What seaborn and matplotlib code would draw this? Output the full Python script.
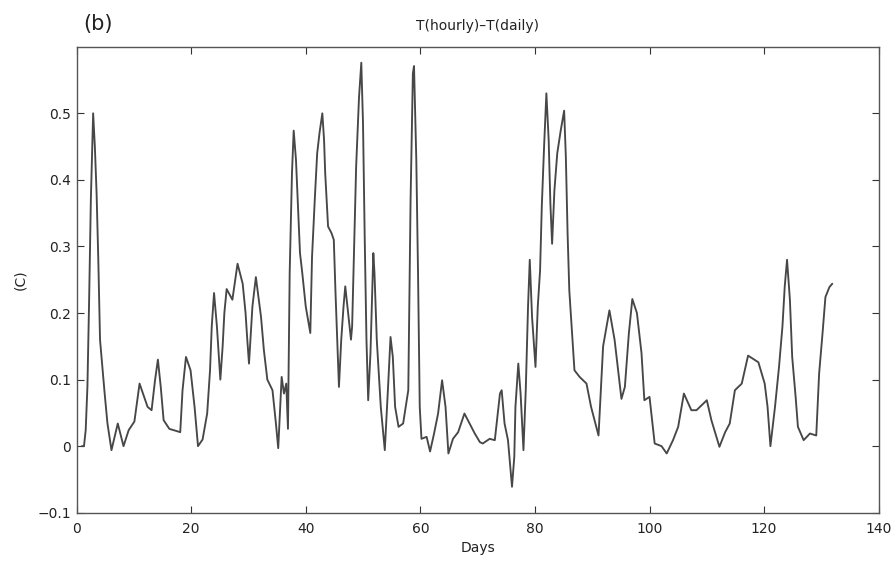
import matplotlib
matplotlib.use("Agg")
import matplotlib.pyplot as plt
import numpy as np
import pandas as pd
import seaborn as sns

# ---- data ----
days = [0.9, 1.3, 1.6, 1.9, 2.2, 2.5, 2.9, 3.2, 3.5, 3.8,
        4.1, 4.5, 4.9, 5.4, 6.1, 7.2, 8.2, 9.1, 10.1, 11.0,
        12.4, 13.1, 13.7, 14.2, 14.7, 15.2, 16.2, 18.1, 18.5, 19.1,
        19.9, 20.6, 21.2, 22.0, 22.8, 23.3, 23.6, 24.0, 24.5, 24.8,
        25.1, 25.5, 25.8, 26.2, 27.2, 28.1, 29.0, 29.5, 29.8, 30.1,
        30.7, 31.3, 32.2, 32.7, 33.3, 34.2, 34.8, 35.2,
        35.8, 36.2, 36.6, 36.9, 37.2, 37.6, 37.9, 38.3, 38.6, 39.0,
        39.4, 40.0, 40.4, 40.8, 41.1, 41.6, 42.0, 42.4, 42.9, 43.2,
        43.4, 43.9, 44.5, 44.9, 45.2, 45.5, 45.8, 46.2, 46.6, 46.9,
        47.4, 47.9, 48.1, 48.4, 48.8, 49.3, 49.7, 50.0, 50.3, 50.6,
        50.9, 51.3, 51.8, 52.0, 52.4, 53.1, 53.8, 54.4, 54.8, 55.2,
        55.6, 56.2, 57.0, 57.9, 58.3, 58.7, 58.9, 59.3, 59.6, 59.9,
        60.2, 61.1, 61.7, 62.4, 63.1, 63.8, 64.4, 64.9, 65.7, 66.6,
        67.7, 69.5, 70.4,
        70.9, 72.1, 73.0, 73.9, 74.2, 74.7, 75.3, 76.0, 76.4, 76.6,
        77.1, 77.5, 78.0, 78.4, 78.8, 79.1, 79.5, 80.1, 80.5, 80.9,
        81.2, 81.6, 82.0, 82.4, 82.7, 83.0, 83.4, 83.9, 84.5, 85.1,
        85.4, 85.7, 86.0, 86.4, 86.9, 87.8, 89.0, 89.8, 91.1, 91.9,
        93.0, 93.9, 95.1, 95.7, 96.4, 97.0, 97.8, 98.6, 99.1, 100.0,
        100.9, 102.1, 103.0, 104.1, 105.0, 106.0, 107.3, 108.2, 110.0, 110.8,
        112.2, 113.2, 114.0, 114.9, 116.1, 117.2, 119.0, 120.1, 120.6, 121.1,
        121.9, 122.6, 123.2, 123.6, 124.0, 124.5, 124.9, 125.5, 125.9, 126.9,
        128.0, 129.1, 129.6, 130.2, 130.7, 131.4, 131.9]

dT = [0.0, 0.0, 0.024, 0.089, 0.22, 0.37, 0.50, 0.45, 0.38, 0.28,
      0.16, 0.12, 0.08, 0.034, -0.006, 0.034, 0.0, 0.024, 0.037, 0.094,
      0.059, 0.054, 0.099, 0.13, 0.089, 0.039, 0.026, 0.021, 0.084, 0.134,
      0.114, 0.059, 0.0, 0.01, 0.049, 0.114, 0.18, 0.23, 0.18, 0.14,
      0.10, 0.15, 0.20, 0.236, 0.22, 0.274, 0.244, 0.20, 0.16, 0.124,
      0.21, 0.254, 0.194, 0.144, 0.10, 0.084, 0.034, -0.003,
      0.104, 0.079, 0.094, 0.026, 0.26, 0.41, 0.474, 0.43, 0.37, 0.29,
      0.26, 0.21, 0.19, 0.17, 0.284, 0.374, 0.44, 0.47, 0.50, 0.46,
      0.41, 0.33, 0.32, 0.31, 0.23, 0.16, 0.089, 0.16, 0.21, 0.24,
      0.20, 0.16, 0.18, 0.284, 0.42, 0.524, 0.576, 0.484, 0.31, 0.16,
      0.069, 0.14, 0.29, 0.26, 0.16, 0.059, -0.006, 0.094, 0.164, 0.134,
      0.059, 0.029, 0.034, 0.084, 0.37, 0.56, 0.571, 0.43, 0.26, 0.059,
      0.011, 0.014, -0.008, 0.019, 0.049, 0.099, 0.059, -0.011, 0.011, 0.021,
      0.049, 0.019, 0.006,
      0.004, 0.011, 0.009, 0.079, 0.084, 0.034, 0.009, -0.061, -0.016, 0.059,
      0.124, 0.079, -0.006, 0.084, 0.21, 0.28, 0.194, 0.119, 0.21, 0.264,
      0.36, 0.45, 0.53, 0.46, 0.364, 0.304, 0.384, 0.44, 0.474, 0.504,
      0.434, 0.32, 0.234, 0.18, 0.114, 0.104, 0.094, 0.059, 0.016, 0.15,
      0.204, 0.16, 0.071, 0.089, 0.17, 0.221, 0.20, 0.14, 0.069, 0.074,
      0.004, 0.0, -0.011, 0.009, 0.029, 0.079, 0.054, 0.054, 0.069, 0.039,
      -0.001, 0.021, 0.034, 0.084, 0.094, 0.136, 0.126, 0.094, 0.059, 0.0,
      0.059, 0.119, 0.18, 0.24, 0.28, 0.22, 0.134, 0.074, 0.029, 0.009,
      0.019, 0.016, 0.109, 0.17, 0.224, 0.239, 0.244]

x_ticks = [0, 20, 40, 60, 80, 100, 120, 140]
y_ticks = [-0.1, 0.0, 0.1, 0.2, 0.3, 0.4, 0.5]
y_tick_labels = ["\u22120.1", "0", "0.1", "0.2", "0.3", "0.4", "0.5"]

df = pd.DataFrame({"Days": days, "dT": dT})

sns.set_theme(style="ticks")
plt.rcParams["font.family"] = ["DejaVu Sans"]

fig = plt.figure(figsize=(8.94, 5.63), dpi=100)
ax = fig.add_axes([0.0856, 0.0893, 0.8973, 0.8277])

sns.lineplot(data=df, x="Days", y="dT", ax=ax, color="#474747",
             linewidth=1.35, sort=False, estimator=None)

ax.set_xlim(0, 140)
ax.set_ylim(-0.1, 0.6)
ax.set_xticks(x_ticks)
ax.set_xticklabels([str(t) for t in x_ticks])
ax.set_yticks(y_ticks)
ax.set_yticklabels(y_tick_labels)

ax.tick_params(direction="in", top=True, right=True, length=5, width=0.8,
               labelsize=10, colors="#333333", labelcolor="#222222")
ax.tick_params(axis="x", pad=7)
ax.tick_params(axis="y", pad=4)
for sp in ax.spines.values():
    sp.set_color("#555555")
    sp.set_linewidth(1.0)

ax.set_xlabel("Days", fontsize=10, color="#222222", labelpad=3)
ax.set_ylabel("(C)", fontsize=10, color="#222222")
ax.yaxis.set_label_coords(-0.062, 0.5)
ax.set_title("T(hourly)\u2013T(daily)", fontsize=10, pad=12, color="#222222")

fig.text(83 / 894, 1 - 24 / 563, "(b)", fontsize=15, ha="left", va="center",
         color="#222222")

fig.savefig("out.png", dpi=100)
